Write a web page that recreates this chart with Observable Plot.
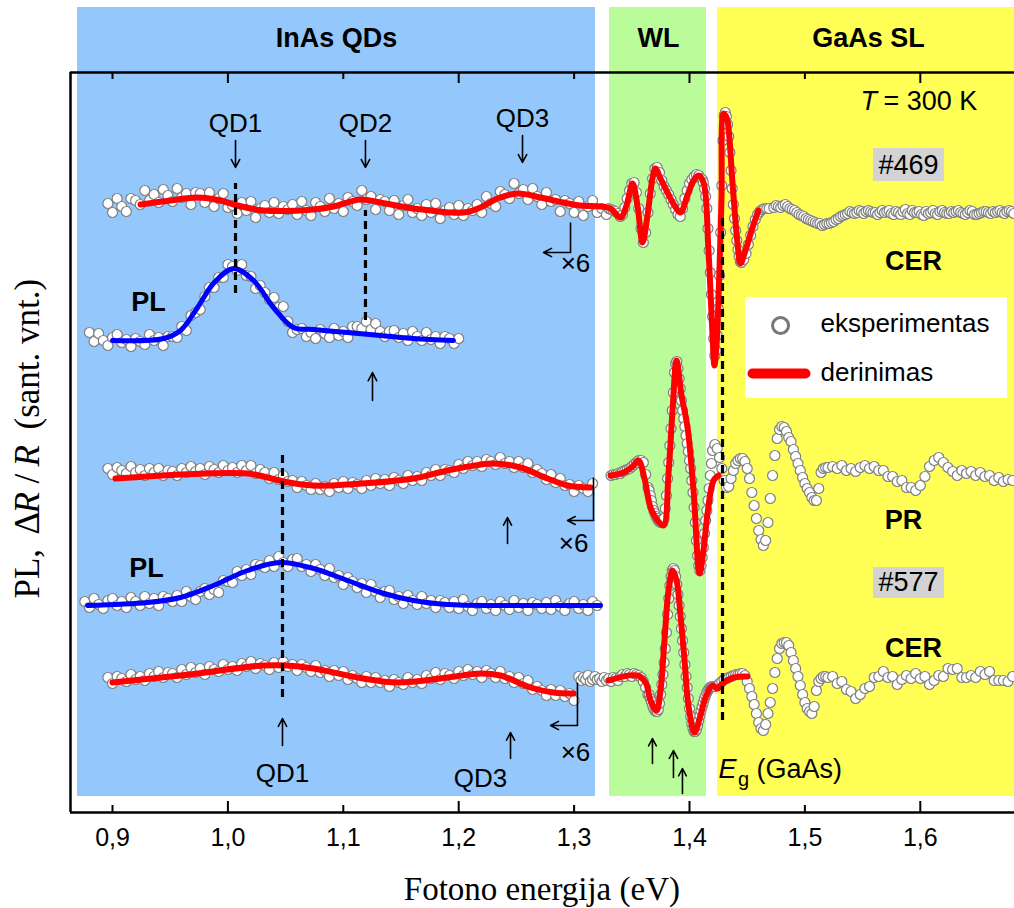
<!DOCTYPE html>
<html><head><meta charset="utf-8">
<script src="https://cdn.jsdelivr.net/npm/d3@7"></script>
<script src="https://cdn.jsdelivr.net/npm/@observablehq/plot@0.6"></script>
<style>body{margin:0;background:#fff}</style>
</head><body><div id="chart"></div>
<script>
// ---------- DATA (x: photon energy, eV; y: signal, arb. units incl. vertical offsets) ----------
// Experimental spectra given on uniform energy grids: [startEnergy, step, values]
const cer469_InAs = [0.896, 0.004, [609,600,614,606,601,614,612,608,622,612,618,610,623,617,611,624,615,619,608,620,
 619,610,620,606,614,619,605,607,599,610,602,611,595,604,607,600,610,599,606,603,
 608,598,611,602,597,610,606,601,614,604,609,601,615,611,607,622,613,616,603,613,
 611,602,612,598,607,613,600,604,597,608,600,609,594,602,605,598,607,597,604,602,
 608,600,616,609,606,621,618,614,629,619,623,613,624,616,608,620,611,613,601,612,
 609,600,611,597,606,612,600,604,598]];
const cer469_WL = [1.330, 0.002, [604,603,602,601,599,596,598,605,614,622,629,630,620,604,584,570,580,600,619,634,
 644,645,640,632,626,622,618,613,608,603,598,596,604,614,622,629,633,636,638,637,634]];
const cer469_Eg = [1.411, 0.001, [633,630,624,616,604,584,562,540,518,496,474,457,462,477,504,537,580,627,672,697,
 700,696,688,676,660,642,624,608,594,582,572,563,556,551,550]];
const cer469_SL1 = [1.447, 0.002, [553,559,568,577,586,593,598,601,603,604,604,604]];
const cer469_SL2 = [1.473, 0.002, [605,607,606,605,607,608,606,604,603,602,600,598,597,596,594,593,592,591,590,589,
 589,587,588,589,589,590,591,593,594,596,597,598,599,601,600,599,600,602,601,599,
 601,602,601,600,600,598,600,602,600,601,602,599,598,601,600,598,601,603,599,598,
 602,600,600,601,598,597,601,599,600,602,599,598,601,602,600,599,599,601,600,601,
 602,600,599,598,600,602,601,598,598,599,600,601,601,600,599,601,600,601,602,600,
 599,601,602,601,599]];

const pl469 = [0.880, 0.004, [480,471,479,472,467,475,478,470,473,466,474,471,468,478,472,475,467,476,476,475,
 486,482,497,500,503,516,525,525,535,535,548,546,542,548,537,536,524,527,520,513,
 515,505,506,491,480,483,484,476,480,474,483,479,475,484,477,481,475,486,486,484,
 491,483,489,481,476,481,482,475,479,472,481,476,472,480,473,476,469,476,474,469,474]];

const pr_InAs = [0.896, 0.004, [344,338,345,342,339,346,340,343,337,344,340,344,337,342,341,337,344,340,346,341,
 344,338,346,343,340,347,342,345,340,347,342,347,339,343,340,334,340,333,337,331,
 332,325,331,327,323,329,323,326,321,329,325,331,324,330,328,324,332,327,334,329,
 333,327,335,332,329,337,332,336,332,340,337,343,337,343,342,340,348,344,351,347,
 351,346,353,351,348,355,349,351,345,351,345,349,340,343,339,333,338,330,334,327,
 328,321,327,324,321,329]];
const pr_WL1 = [1.332, 0.002, [337,338,338,339,339,341,342,343,344,346,348,350,352,352,350,338,325]];
const pr_WL2 = [1.365, 0.001, [322,317,312,306,302,299,296,294,292,291,290,290,290,294,304,317,334,350,367,384,
 402,420,440,449,451,444,434,424,412,402,394,386,377,369,361,352,344,332,320,305,
 290,272,257,247,242,247,255,265,279,292,302,312,324,337,349,362]];
const pr_SL1 = [1.422, 0.002, [368,364,355,344,332,325,326,334,342,349,352,354,354,351,344,334,320,307,294,282,
 273,267,272,290,314,337,357,374,383,386,385,381,375,371,363,356,349,342,335,329,
 324,320,315,312,312,324,340,344,345,345]];
const pr_SL2 = [1.524, 0.004, [346,344,347,342,344,341,345,347,344,346,342,342,336,336,331,332,325,325,322,327,
 336,346,352,355,350,345,341,337,342,339,341,337,340,336,337,332,335,331,333,332]];

const pl577 = [0.876, 0.004, [211,205,214,208,204,212,214,207,211,205,215,211,207,216,209,214,207,216,214,211,
 217,211,221,216,213,221,224,218,223,220,232,231,230,241,237,243,238,248,247,245,
 252,246,256,250,246,253,254,246,248,241,248,243,237,244,235,237,228,235,231,225,
 229,220,228,221,215,221,222,213,216,209,217,212,208,216,209,212,205,212,210,205,
 211,204,213,206,202,209,211,204,208,202,211,207,203,212,205,209,202,210,208,204,
 210,203,212,206,202,209,211,204,208,202,211,207]];

const cer577_InAs = [0.896, 0.004, [135,129,136,134,131,138,133,136,132,139,136,141,135,140,139,135,143,138,145,140,
 144,138,146,143,141,148,143,146,142,149,146,151,144,149,147,143,150,145,151,146,
 148,142,148,145,141,147,140,142,136,142,137,141,133,137,134,130,136,130,135,130,
 132,126,133,130,128,135,130,133,129,137,134,140,133,139,137,134,141,137,143,138,
 141,135,142,139,135,141,134,136,130,135,129,132,123,126,122,117,123,117,122,116,
 119,112]];
const cer577_WL1 = [1.304, 0.002, [136,132,135,133,137,131,133,136,133,134,131,135,132,134,131,135,134,132,136,138,
 136,139,138,136,139,138,137,135,131,125,118]];
const cer577_WL2 = [1.365, 0.001, [118,114,111,107,104,102,101,101,103,109,118,128,138,150,164,180,198,214,227,236,
 242,244,242,236,228,218,207,196,184,172,160,148,136,125,114,104,96,89,84,81,
 81,83,87,92,97,102,106,110,114,117,120,122,124,125,126,126]];
const cer577_SL1 = [1.422, 0.002, [126,127,129,131,133,134,135,136,137,138,138,139,139,137,131,124,116,108,99,90,
 84,82,88,99,110,124,140,154,164,169,170,170,167,160,152,144,136,127,118,110,
 104,101,99,106,122,131,134,136,136,135]];
const cer577_SL2 = [1.524, 0.004, [136,129,131,123,121,114,118,124,126,135,136,141,135,136,128,133,137,134,139,134,
 136,128,132,137,136,144,143,144,135,135,137,135,141,138,141,132,132,132,131,136]];

// Fits: [energy, value]
const fit469 = [[0.9243,608],[0.9503,612],[0.9737,615],[0.9936,612],[1.0083,607],[1.0308,602],[1.0742,603],[1.0915,606],
 [1.1149,613],[1.1322,610],[1.1608,604],[1.2042,600],[1.2189,605],[1.2336,614],[1.2510,619],[1.2709,615],[1.2908,610],
 [1.3055,607],[1.3229,606],[1.3315,604],[1.3402,595],[1.3454,607],[1.3506,629],[1.3549,607],[1.3593,570],[1.3636,597],
 [1.3679,634],[1.3705,644],[1.3749,634],[1.3809,620],[1.3870,607],[1.3922,600],[1.3982,617],[1.4035,632],[1.4078,637],
 [1.4121,630],[1.4164,562],[1.4199,479],[1.4216,447],[1.4234,467],[1.4251,512],[1.4277,612],[1.4295,699],[1.4312,697],
 [1.4329,692],[1.4373,629],[1.4416,569],[1.4442,549],[1.4485,562],[1.4546,585],[1.4598,602]];
const plFit469 = [[0.9,472],[0.9442,474],[0.9589,482],[0.9737,505],[0.9875,529],[1.0049,544],[1.0222,532],[1.0395,505],
 [1.0568,485],[1.0742,483],[1.1036,480],[1.1322,477],[1.1608,474],[1.1955,472]];
const prFitLow = [[0.9026,334],[1.0170,339],[1.0343,335],[1.0482,331],[1.0742,327],[1.1036,328],[1.1608,334],[1.1903,342],
 [1.2302,349],[1.2536,345],[1.2770,334],[1.2943,327],[1.3142,325]];
const prFitHigh = [[1.3315,337],[1.3428,340],[1.3506,346],[1.3558,352],[1.3610,334],[1.3662,305],[1.3723,292],[1.3775,287],
 [1.3818,339],[1.3853,402],[1.3888,452],[1.3931,417],[1.3983,385],[1.4035,322],[1.4087,239],[1.4121,262],[1.4156,299],
 [1.4208,332],[1.4251,337]];
const plFit577 = [[0.8783,207],[0.9303,210],[0.9589,215],[0.9875,227],[1.0170,242],[1.0456,250],[1.0742,244],[1.1036,232],
 [1.1322,220],[1.1608,212],[1.1903,208],[1.2362,207],[1.3229,207]];
const cer577FitLow = [[0.9,130],[0.9589,137],[1.0308,147],[1.0516,147],[1.0742,144],[1.1175,134],[1.1470,130],[1.1903,135],
 [1.2189,139],[1.2362,137],[1.2622,125],[1.2821,120],[1.2995,119]];
const cer577FitHigh = [[1.3298,132],[1.3549,137],[1.3619,130],[1.3662,112],[1.3714,102],[1.3749,122],[1.3783,172],[1.3818,222],
 [1.3853,242],[1.3888,232],[1.3922,197],[1.3957,152],[1.3991,107],[1.4043,80],[1.4095,97],[1.4139,115],[1.4199,127],
 [1.4243,124],[1.4286,129],[1.4381,135],[1.4502,136]];

// Spectral regions
const regionNames = ["InAs QDs", "WL", "GaAs SL"];
const regionStart = [0.8697, 1.3307, 1.4243];
const regionEnd = [1.3185, 1.4147, 1.70];
const regionLabelE = [1.0941, 1.3731, 1.5551];

// Axis ticks
const xTicks = [0.9, 1.0, 1.1, 1.2, 1.3, 1.4, 1.5, 1.6];
const majorTicks = [1.0, 1.2, 1.4, 1.6];
const minorTicks = [0.9, 1.1, 1.3, 1.5];

// Annotations
const dashedLines = [{E:1.0066, v1:519, v2:629}, {E:1.1192, v1:492, v2:602}, {E:1.0473, v1:115, v2:360}, {E:1.4286, v1:92, v2:599}];
const downArrows = [{E:1.0066, v1:672, v2:645}, {E:1.1192, v1:672, v2:645}, {E:1.2553, v1:677, v2:650}];
const upArrows = [{E:1.1253, v1:412, v2:440}, {E:1.2423, v1:269, v2:295}, {E:1.0473, v1:67, v2:94}, {E:1.2449, v1:54, v2:80},
 {E:1.3679, v1:49, v2:74}, {E:1.3861, v1:35, v2:62}, {E:1.3939, v1:19, v2:44}];
const hooks = [{E:1.2969, v1:590, v2:560, E2:1.2735}, {E:1.3168, v1:335, v2:292, E2:1.2943}, {E:1.3029, v1:130, v2:87, E2:1.2796}];
const x6Labels = [{E:1.3012, v:549}, {E:1.2995, v:269}, {E:1.3012, v:60}];
const qdLabels = [{t:"QD1", E:1.0066, v:689}, {t:"QD2", E:1.1192, v:689}, {t:"QD3", E:1.2553, v:694}, {t:"QD1", E:1.0473, v:39}, {t:"QD3", E:1.2189, v:34}];
const boldLabels = [{t:"PL", E:0.9312, v:510}, {t:"PL", E:0.9295, v:244}, {t:"CER", E:1.5941, v:551}, {t:"PR", E:1.5855, v:292}, {t:"CER", E:1.5941, v:164}];
const sampleTags = [{t:"#469", E:1.5898, v:647, E1:1.5594, E2:1.6210, v1:631, v2:664}, {t:"#577", E:1.5898, v:230, E1:1.5594, E2:1.6210, v1:214, v2:245}];

// ---------- build ----------
const pts = (...segs) => segs.flatMap(([e0, de, vals]) => vals.map((v, i) => ({E: +(e0 + i * de).toFixed(4), v})));
const exp469 = pts(cer469_InAs, cer469_WL, cer469_Eg, cer469_SL1, cer469_SL2);
const expPL469 = pts(pl469);
const expPR = pts(pr_InAs, pr_WL1, pr_WL2, pr_SL1, pr_SL2);
const expPL577 = pts(pl577);
const exp577 = pts(cer577_InAs, cer577_WL1, cer577_WL2, cer577_SL1, cer577_SL2);

const SANS = "Liberation Sans, Arial, sans-serif";
const SERIF = "Liberation Serif, Times New Roman, serif";
const regionColors = ["#94c7fc", "#bafc99", "#ffff55"];
const xMin = 0.86360, xMax = 1.68163;

const dotOpts = {x: "E", y: "v", r: 5, fill: "white", stroke: "#808080", strokeWidth: 1.2};
const fitLine = (data, color, w) => Plot.line(data, {x: d => d[0], y: d => d[1], stroke: color, strokeWidth: w, curve: "catmull-rom", strokeLinecap: "round", strokeLinejoin: "round"});

const marks = [];
regionNames.forEach((n, i) => {
  marks.push(Plot.rect([{}], {x1: () => regionStart[i], x2: () => regionEnd[i], y1: () => 16, y2: () => 805, fill: regionColors[i]}));
  marks.push(Plot.text([{}], {x: () => regionLabelE[i], y: () => 774, text: () => n, fontFamily: SANS, fontWeight: "bold", fontSize: 27, fill: "black"}));
});
// tag boxes and legend box
marks.push(Plot.rect(sampleTags, {x1: "E1", x2: "E2", y1: "v1", y2: "v2", fill: "#d3d3d3"}));
marks.push(Plot.text(sampleTags, {x: "E", y: "v", text: "t", fontFamily: SANS, fontSize: 27, fill: "black"}));
marks.push(Plot.rect([{}], {x1: () => 1.4485, x2: () => 1.6756, y1: () => 414, y2: () => 515, fill: "white"}));

// experimental points and fits
marks.push(Plot.dot(exp469, dotOpts), fitLine(fit469, "#ff0000", 6));
marks.push(Plot.dot(expPL469, dotOpts), fitLine(plFit469, "#0000ff", 5));
marks.push(Plot.dot(expPR, dotOpts), fitLine(prFitLow, "#ff0000", 6), fitLine(prFitHigh, "#ff0000", 6));
marks.push(Plot.dot(expPL577, dotOpts), fitLine(plFit577, "#0000ff", 5));
marks.push(Plot.dot(exp577, dotOpts), fitLine(cer577FitLow, "#ff0000", 6), fitLine(cer577FitHigh, "#ff0000", 6));

// dashed lines
marks.push(Plot.ruleX(dashedLines, {x: "E", y1: "v1", y2: "v2", stroke: "black", strokeWidth: 3.2, strokeDasharray: "8,5"}));
// arrows
marks.push(Plot.arrow(downArrows, {x1: "E", x2: "E", y1: "v1", y2: "v2", stroke: "black", strokeWidth: 1.6, headLength: 9, headAngle: 55}));
marks.push(Plot.arrow(upArrows, {x1: "E", x2: "E", y1: "v1", y2: "v2", stroke: "black", strokeWidth: 1.6, headLength: 9, headAngle: 55}));
marks.push(Plot.link(hooks, {x1: "E", x2: "E", y1: "v1", y2: "v2", stroke: "black", strokeWidth: 1.6}));
marks.push(Plot.arrow(hooks, {x1: "E", x2: "E2", y1: "v2", y2: "v2", stroke: "black", strokeWidth: 1.6, headLength: 9, headAngle: 55}));
marks.push(Plot.text(x6Labels, {x: "E", y: "v", text: () => "×6", fontFamily: SANS, fontSize: 26, fill: "black"}));
marks.push(Plot.text(qdLabels, {x: "E", y: "v", text: "t", fontFamily: SANS, fontSize: 26, fill: "black"}));
marks.push(Plot.text(boldLabels, {x: "E", y: "v", text: "t", fontFamily: SANS, fontSize: 27, fontWeight: "bold", fill: "black"}));

// T = 300 K
marks.push(Plot.text([{}], {x: () => 1.5482, y: () => 711, text: () => "T", fontFamily: SANS, fontSize: 27, fontStyle: "italic", textAnchor: "start"}));
marks.push(Plot.text([{}], {x: () => 1.5681, y: () => 711, text: () => "= 300 K", fontFamily: SANS, fontSize: 27, textAnchor: "start"}));
// Eg (GaAs)
marks.push(Plot.text([{}], {x: () => 1.4251, y: () => 43, text: () => "E", fontFamily: SANS, fontSize: 27, fontStyle: "italic", textAnchor: "start"}));
marks.push(Plot.text([{}], {x: () => 1.4420, y: () => 33, text: () => "g", fontFamily: SANS, fontSize: 20, textAnchor: "start"}));
marks.push(Plot.text([{}], {x: () => 1.4580, y: () => 43, text: () => "(GaAs)", fontFamily: SANS, fontSize: 27, textAnchor: "start"}));

// legend
marks.push(Plot.dot([{}], {x: () => 1.4789, y: () => 487, r: 8, fill: "white", stroke: "#777", strokeWidth: 3}));
marks.push(Plot.text([{}], {x: () => 1.5135, y: () => 489, text: () => "eksperimentas", fontFamily: SANS, fontSize: 26, textAnchor: "start"}));
marks.push(Plot.line([[1.4546, 439], [1.5005, 439]], {x: d => d[0], y: d => d[1], stroke: "#ff0000", strokeWidth: 10, strokeLinecap: "round"}));
marks.push(Plot.text([{}], {x: () => 1.5135, y: () => 440, text: () => "derinimas", fontFamily: SANS, fontSize: 26, textAnchor: "start"}));

// frame and ticks
marks.push(Plot.ruleY([0, 740], {stroke: "black", strokeWidth: 2.5}));
marks.push(Plot.ruleX([xMin], {stroke: "black", strokeWidth: 2.5}));
marks.push(Plot.ruleX(majorTicks, {y1: () => 0, y2: () => 11, stroke: "black", strokeWidth: 2}));
marks.push(Plot.ruleX(majorTicks, {y1: () => 729, y2: () => 740, stroke: "black", strokeWidth: 2}));
marks.push(Plot.ruleX(minorTicks, {y1: () => 0, y2: () => 7, stroke: "black", strokeWidth: 2}));
marks.push(Plot.ruleX(minorTicks, {y1: () => 733, y2: () => 740, stroke: "black", strokeWidth: 2}));
marks.push(Plot.axisX(xTicks, {tickSize: 0, tickPadding: 16, fontSize: 25, fontFamily: SANS, tickFormat: d => d.toFixed(1).replace(".", ","), label: null}));

// axis titles
marks.push(Plot.text([{}], {x: () => 1.2721, y: () => -77, text: () => "Fotono energija (eV)", fontFamily: SERIF, fontSize: 33, fill: "black"}));
const yLabN = [{t: "PL,", v: 214}, {t: "Δ", v: 278}, {t: "/", v: 329}, {t: "(sant. vnt.)", v: 383}];
const yLabI = [{t: "R", v: 299}, {t: "R", v: 346}];
marks.push(Plot.text(yLabN, {x: () => 0.8263, y: "v", text: "t", rotate: -90, textAnchor: "start", fontFamily: SERIF, fontSize: 35, fill: "black"}));
marks.push(Plot.text(yLabI, {x: () => 0.8263, y: "v", text: "t", rotate: -90, textAnchor: "start", fontFamily: SERIF, fontSize: 35, fontStyle: "italic", fill: "black"}));

const chart = Plot.plot({
  width: 1014, height: 908,
  marginTop: 72, marginBottom: 96, marginLeft: 70, marginRight: 0,
  x: {domain: [xMin, xMax], axis: null},
  y: {domain: [0, 740], axis: null},
  style: {fontFamily: SANS, background: "white", overflow: "visible"},
  marks
});
document.getElementById("chart").append(chart);
</script></body></html>
